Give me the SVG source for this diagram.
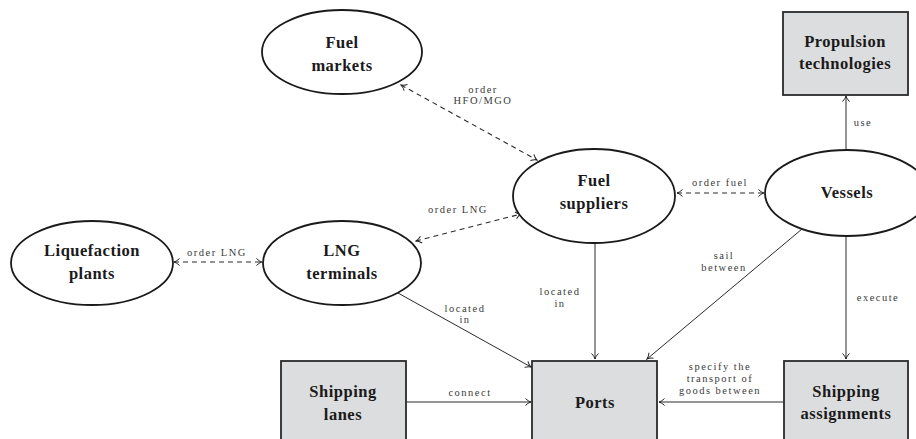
<svg xmlns="http://www.w3.org/2000/svg" width="916" height="439" viewBox="0 0 916 439">
  <style>
    .ell { fill: #ffffff; stroke: #1a1a1a; stroke-width: 1.8; }
    .box { fill: #dcdddf; stroke: #2a2a2a; stroke-width: 1.8; }
    .name { font-family: "Liberation Serif", "DejaVu Serif", serif; font-weight: bold; font-size: 16.5px; letter-spacing: 0.5px; fill: #1a1a1a; text-anchor: middle; }
    .lbl { font-family: "Liberation Serif", "DejaVu Serif", serif; font-size: 10.5px; letter-spacing: 1.5px; fill: #3a3a3a; text-anchor: middle; }
    .solid { fill: none; stroke: #2a2a2a; stroke-width: 1; marker-end: url(#tip); }
    .dash { fill: none; stroke: #2a2a2a; stroke-width: 1.1; stroke-dasharray: 5 4; marker-start: url(#tip); marker-end: url(#tip); }
  </style>
  <defs>
    <marker id="tip" viewBox="-7 -4 8 8" refX="0" refY="0" markerWidth="8" markerHeight="8" orient="auto-start-reverse" markerUnits="userSpaceOnUse">
      <path d="M-5.5,-3.5 C-3.3,-1.3 -1.1,-0.3 0,0 C-1.1,0.3 -3.3,1.3 -5.5,3.5" fill="none" stroke="#222" stroke-width="1"/>
    </marker>
  </defs>

  <rect width="916" height="439" fill="#ffffff"/>

  <!-- connectors -->
  <g id="connectors">
    <line class="dash" x1="401" y1="85" x2="537" y2="160"/>
    <line class="dash" x1="416" y1="241" x2="521" y2="214"/>
    <line class="dash" x1="174" y1="262" x2="262" y2="262"/>
    <line class="dash" x1="677" y1="193" x2="764" y2="193"/>
    <line class="solid" x1="846" y1="150" x2="846" y2="96"/>
    <line class="solid" x1="846" y1="236" x2="846" y2="359"/>
    <line class="solid" x1="802" y1="229" x2="647" y2="359"/>
    <line class="solid" x1="595" y1="243" x2="595" y2="359"/>
    <line class="solid" x1="398" y1="293" x2="531" y2="367"/>
    <line class="solid" x1="406" y1="402" x2="531" y2="402"/>
    <line class="solid" x1="784" y1="402" x2="659" y2="402"/>

    <text class="lbl" x="483" y="93">order</text>
    <text class="lbl" x="483" y="104">HFO/MGO</text>
    <text class="lbl" x="458" y="213">order LNG</text>
    <text class="lbl" x="217" y="256">order LNG</text>
    <text class="lbl" x="720" y="186">order fuel</text>
    <text class="lbl" x="863" y="126">use</text>
    <text class="lbl" x="724" y="259">sail</text>
    <text class="lbl" x="724" y="271">between</text>
    <text class="lbl" x="560" y="295">located</text>
    <text class="lbl" x="560" y="307">in</text>
    <text class="lbl" x="465" y="312">located</text>
    <text class="lbl" x="465" y="323">in</text>
    <text class="lbl" x="878" y="301">execute</text>
    <text class="lbl" x="470" y="396">connect</text>
    <text class="lbl" x="720" y="370">specify the</text>
    <text class="lbl" x="720" y="382">transport of</text>
    <text class="lbl" x="720" y="394">goods between</text>
  </g>

  <!-- nodes -->
  <g id="fuel-markets">
    <ellipse class="ell" cx="342" cy="52" rx="80" ry="42"/>
    <text class="name" x="342" y="48">Fuel</text>
    <text class="name" x="342" y="71">markets</text>
  </g>
  <g id="fuel-suppliers">
    <ellipse class="ell" cx="594" cy="196" rx="81" ry="47"/>
    <text class="name" x="594" y="186">Fuel</text>
    <text class="name" x="594" y="209">suppliers</text>
  </g>
  <g id="vessels">
    <ellipse class="ell" cx="847" cy="193" rx="82" ry="43"/>
    <text class="name" x="847" y="198">Vessels</text>
  </g>
  <g id="liquefaction-plants">
    <ellipse class="ell" cx="92" cy="263" rx="81" ry="42"/>
    <text class="name" x="92" y="256">Liquefaction</text>
    <text class="name" x="92" y="279">plants</text>
  </g>
  <g id="lng-terminals">
    <ellipse class="ell" cx="342" cy="263" rx="79" ry="42"/>
    <text class="name" x="342" y="256">LNG</text>
    <text class="name" x="342" y="279">terminals</text>
  </g>
  <g id="propulsion-technologies">
    <rect class="box" x="783" y="12" width="125" height="83"/>
    <text class="name" x="845" y="47">Propulsion</text>
    <text class="name" x="845" y="69">technologies</text>
  </g>
  <g id="shipping-lanes">
    <rect class="box" x="281" y="361" width="125" height="90"/>
    <text class="name" x="343" y="397">Shipping</text>
    <text class="name" x="343" y="420">lanes</text>
  </g>
  <g id="ports">
    <rect class="box" x="532" y="361" width="125" height="90"/>
    <text class="name" x="595" y="408">Ports</text>
  </g>
  <g id="shipping-assignments">
    <rect class="box" x="784" y="361" width="124" height="90"/>
    <text class="name" x="846" y="397">Shipping</text>
    <text class="name" x="846" y="419">assignments</text>
  </g>
</svg>
